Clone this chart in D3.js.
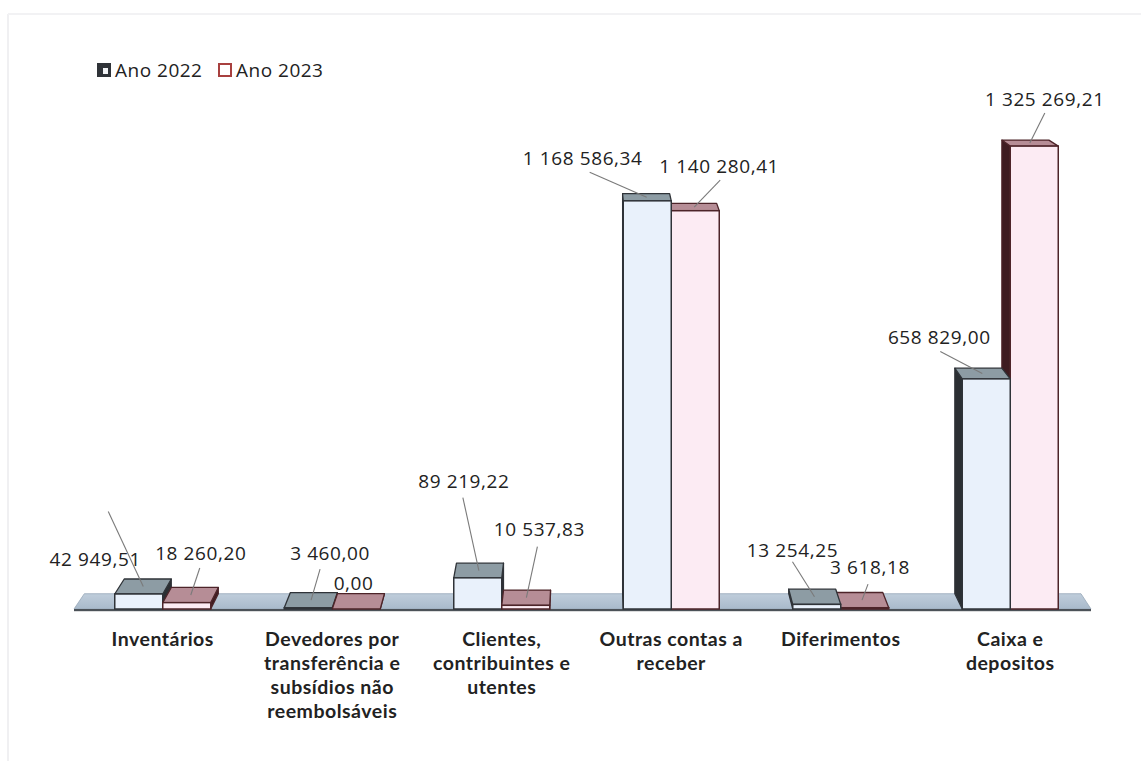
<!DOCTYPE html>
<html>
<head>
<meta charset="utf-8">
<script src="https://cdn.jsdelivr.net/npm/d3@7"></script>
<style>
  html, body { margin: 0; padding: 0; background: #ffffff; }
  svg { display: block; }
</style>
</head>
<body>
<svg id="chart" width="1141" height="761"></svg>
<script>
// ---------------- data ----------------
const categories = [
  "Inventários",
  "Devedores por transferência e subsídios não reembolsáveis",
  "Clientes, contribuintes e utentes",
  "Outras contas a receber",
  "Diferimentos",
  "Caixa e depositos"
];
const categoryLines = [
  ["Inventários"],
  ["Devedores por", "transferência e", "subsídios não", "reembolsáveis"],
  ["Clientes,", "contribuintes e", "utentes"],
  ["Outras contas a", "receber"],
  ["Diferimentos"],
  ["Caixa e", "depositos"]
];
const seriesNames = ["Ano 2022", "Ano 2023"];
const values2022 = [42949.51, 3460.00, 89219.22, 1168586.34, 13254.25, 658829.00];
const values2023 = [18260.20, 0.00, 10537.83, 1140280.41, 3618.18, 1325269.21];

// label layout: offsets of [label centre x, y, leader start x, y] from the bar's top anchor
const labelLayout2022 = [[-48,-28,-35,-75],[19,-47,9,-31],[-15,-90,-16,-73],[-64,-39,-57,-25],[-22,-47,-22,-35],[-43,-37,-42,-22]];
const labelLayout2023 = [[10,-42,9,-27],[-5,-18,-5,-18],[13,-69,11,-51],[25,-41,26,-27],[8,-33,6,-16],[15,-44,15,-30]];

// ---------------- setup ----------------
const svg = d3.select("#chart");

const ptLocale = d3.formatLocale({decimal: ",", thousands: " ", grouping: [3], currency: ["", " €"]});
const fmt = ptLocale.format(",.2f");

const x0 = d3.scaleBand().domain(categories).range([78, 1095]).padding(0);
const x1 = d3.scaleBand().domain(seriesNames).range([x0.bandwidth()/2 - 48, x0.bandwidth()/2 + 48]).padding(0);
const y = d3.scaleLinear().domain([0, 1400000]).range([609, 120]);

// simple perspective
const VP = {x: 590, y: -155};
const K = 0.02;
const back = p => [p[0] + K * (VP.x - p[0]), p[1] + K * (VP.y - p[1])];

const styles = {
  "Ano 2022": {front: "#e9f1fb", top: "#8d9ca4", side: "#2b2f33", stroke: "#2f3338"},
  "Ano 2023": {front: "#fcebf3", top: "#b68d96", side: "#3e1c21", stroke: "#4d2429"}
};

// faint frame of the scanned page
svg.append("line").attr("x1", 8).attr("x2", 8).attr("y1", 14).attr("y2", 761)
  .attr("stroke", "#f0f0f2").attr("stroke-width", 2);
svg.append("line").attr("x1", 8).attr("x2", 1141).attr("y1", 14).attr("y2", 14)
  .attr("stroke", "#f2f2f4").attr("stroke-width", 2);

// ---------------- floor ----------------
const floorL = x0.range()[0] - 4, floorR = x0.range()[1] - 4, floorY = y(0);
const fFL = [floorL, floorY], fFR = [floorR, floorY];
const floorPts = [fFL, fFR, back(fFR), back(fFL)];
const defs = svg.append("defs");
const fg = defs.append("linearGradient").attr("id", "floorGrad").attr("x1", 0).attr("x2", 0).attr("y1", 0).attr("y2", 1);
fg.append("stop").attr("offset", "0%").attr("stop-color", "#bfcddb");
fg.append("stop").attr("offset", "100%").attr("stop-color", "#a9bacb");
svg.append("polygon").attr("points", floorPts.map(p => p.join(",")).join(" "))
  .attr("fill", "url(#floorGrad)").attr("stroke", "#97a7b8").attr("stroke-width", 0.8);
svg.append("rect").attr("x", floorL).attr("y", floorY).attr("width", floorR - floorL).attr("height", 2.2)
  .attr("fill", "#4c5258");

// ---------------- bars ----------------
const bars = [];
categories.forEach((c, i) => {
  [values2022[i], values2023[i]].forEach((v, s) => {
    const name = seriesNames[s];
    const xa = x0(c) + x1(name);
    bars.push({cat: c, i, s, name, v, xa, xb: xa + x1.bandwidth(), yt: y(v), yb: y(0),
      layout: s === 0 ? labelLayout2022[i] : labelLayout2023[i]});
  });
});
// draw the bars farthest from the vanishing point first
const order = bars.slice().sort((a, b) => Math.abs((b.xa + b.xb) / 2 - VP.x) - Math.abs((a.xa + a.xb) / 2 - VP.x));

const poly = pts => pts.map(p => p.join(",")).join(" ");
const gBars = svg.append("g");
order.forEach(b => {
  const st = styles[b.name];
  const g = gBars.append("g");
  const FTL = [b.xa, b.yt], FTR = [b.xb, b.yt], FBL = [b.xa, b.yb], FBR = [b.xb, b.yb];
  let side = null;
  if (b.xa > VP.x) side = [FTL, back(FTL), back(FBL), FBL];
  else if (b.xb < VP.x) side = [FTR, back(FTR), back(FBR), FBR];
  if (side) g.append("polygon").attr("points", poly(side)).attr("fill", st.side)
    .attr("stroke", st.stroke).attr("stroke-width", 1.2).attr("stroke-linejoin", "round");
  g.append("polygon").attr("points", poly([FTL, FTR, back(FTR), back(FTL)]))
    .attr("fill", st.top).attr("stroke", st.stroke).attr("stroke-width", 1.3).attr("stroke-linejoin", "round");
  g.append("rect").attr("x", b.xa).attr("y", b.yt).attr("width", b.xb - b.xa).attr("height", Math.max(0, b.yb - b.yt))
    .attr("fill", st.front).attr("stroke", st.stroke).attr("stroke-width", 1.5);
});
bars.forEach(b => {
  const bk = back([(b.xa + b.xb) / 2, b.yt]);
  b.ax = ((b.xa + b.xb) / 2 + bk[0]) / 2;
  b.ay = (b.yt + bk[1]) / 2;
});

// ---------------- labels & leader lines ----------------
const gLab = svg.append("g");
bars.forEach(b => {
  const L = b.layout;
  if (L[2] !== L[0] || L[3] !== L[1]) {
    gLab.append("line").attr("x1", b.ax + L[2]).attr("y1", b.ay + L[3]).attr("x2", b.ax).attr("y2", b.ay)
      .attr("stroke", "#7a7a7a").attr("stroke-width", 1.1);
  }
});
bars.forEach(b => {
  const L = b.layout;
  gLab.append("text").attr("x", b.ax + L[0]).attr("y", b.ay + L[1])
    .attr("text-anchor", "middle").attr("dominant-baseline", "central")
    .attr("font-family", "'Open Sans', sans-serif").attr("font-size", 19)
    .attr("letter-spacing", 0.6).attr("fill", "#222")
    .text(fmt(b.v));
});

// ---------------- category labels ----------------
const gCat = svg.append("g");
categories.forEach((c, i) => {
  const cx = x0(c) + x0.bandwidth() / 2;
  const t = gCat.append("text").attr("x", cx).attr("y", 646)
    .attr("text-anchor", "middle").attr("font-family", "Lato, sans-serif")
    .attr("font-weight", "bold").attr("font-size", 19.5).attr("letter-spacing", 0.5).attr("fill", "#222");
  categoryLines[i].forEach((ln, j) => {
    t.append("tspan").attr("x", cx).attr("dy", j === 0 ? 0 : 24).text(ln);
  });
});

// ---------------- legend ----------------
const lg = svg.append("g").attr("transform", "translate(97,63)");
const legendItems = lg.selectAll("g").data(seriesNames).join("g")
  .attr("transform", (d, i) => `translate(${i * 121},0)`);
legendItems.append("rect").attr("x", 1).attr("y", 1).attr("width", 12).attr("height", 12)
  .attr("fill", d => d === "Ano 2022" ? "#2f3338" : "#ffffff")
  .attr("stroke", d => d === "Ano 2022" ? "#2f3338" : "#a8403f").attr("stroke-width", 2);
legendItems.filter(d => d === "Ano 2022").append("rect")
  .attr("x", 6).attr("y", 5).attr("width", 5).attr("height", 6).attr("fill", "#f2f4f6");
legendItems.append("text").attr("x", 18).attr("y", 7).attr("dominant-baseline", "central")
  .attr("font-family", "'Open Sans', sans-serif").attr("font-size", 19).attr("letter-spacing", 0.5).attr("fill", "#222")
  .text(d => d);
</script>
</body>
</html>
